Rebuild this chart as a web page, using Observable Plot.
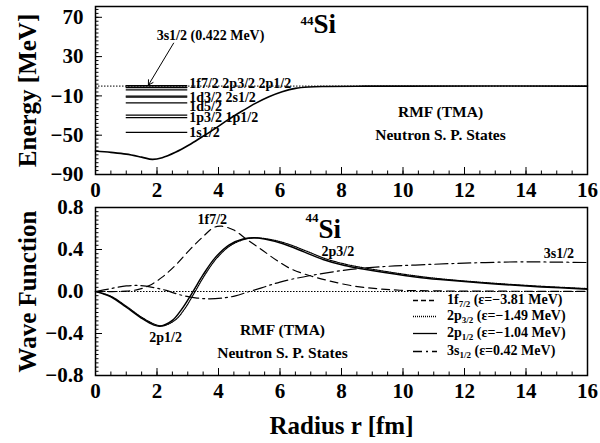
<!DOCTYPE html>
<html><head><meta charset="utf-8">
<script src="https://cdn.jsdelivr.net/npm/d3@7"></script>
<script src="https://cdn.jsdelivr.net/npm/@observablehq/plot@0.6"></script>
<style>
body{margin:0;background:#fff;}
#wrap{position:relative;width:600px;height:443px;font-family:"Liberation Serif","Times New Roman",serif;}
#wrap svg{display:block;}
.lg{position:absolute;height:17px;display:flex;align-items:center;font-weight:bold;font-size:14px;white-space:nowrap;}
.lg sub{font-size:9px;vertical-align:-3px;}
</style></head>
<body><div id="wrap"></div>
<script>
const FONT = '"Liberation Serif","Times New Roman",serif';

// ---------- top panel data ----------
const potR = [0, 0.5, 1.0, 1.5, 1.85, 2.17, 2.6, 3.04, 3.47, 3.9, 4.34, 4.77, 5.2, 5.64, 6.07, 6.5, 6.94, 7.5, 8.5, 10, 16];
const potE = [-66.1, -67.5, -69.3, -72.3, -74.6, -72.9, -67.4, -60, -51.6, -43, -33.6, -25.4, -17.6, -10.9, -5.8, -2.3, -0.9, -0.4, -0.1, 0, 0];
const levelNames = ["3s1/2", "2p1/2", "2p3/2", "1f7/2", "1d3/2", "2s1/2", "1d5/2", "1p1/2", "1p3/2", "1s1/2"];
const levelE = [0.42, -1.04, -1.49, -3.81, -10.2, -11.2, -17.0, -29.5, -32.2, -47.1];
const levelSpan = [1, 3];
const levelLabels = ["1f7/2 2p3/2 2p1/2", "1d3/2 2s1/2", "1d5/2", "1p3/2 1p1/2", "1s1/2"];
const levelLabelE = [2.6, -11.6, -21.3, -31.8, -47.1];
const levelLabelR = 3.05;
const arrowNote = {text: "3s1/2 (0.422 MeV)", r: 3.74, E: 51.9, r1: 2.54, E1: 43.7, r2: 1.72, E2: 1.0};
const energyTicks = [70, 30, -10, -50, -90];
const xTicks = [0, 2, 4, 6, 8, 10, 12, 14, 16];

// ---------- bottom panel data ----------
const f72 = [[0,0],[1.0,0.003],[1.4,0.02],[1.75,0.057],[2.17,0.137],[2.6,0.25],[3.04,0.39],[3.47,0.515],[3.85,0.61],[4.1,0.622],[4.5,0.585],[4.9,0.5],[5.37,0.405],[5.9,0.295],[6.35,0.216],[6.95,0.152],[7.55,0.105],[8.3,0.057],[9.15,0.027],[9.9,0.012],[11,0.006],[13,0.003],[16,0.001]];
const p32 = [[0,0],[0.5,-0.045],[1.0,-0.14],[1.5,-0.245],[1.95,-0.315],[2.2,-0.327],[2.6,-0.27],[2.9,-0.165],[3.22,-0.01],[3.55,0.155],[3.95,0.32],[4.4,0.44],[4.85,0.497],[5.2,0.51],[5.6,0.5],[6.2,0.458],[6.9,0.38],[7.5,0.31],[8.2,0.255],[8.8,0.222],[9.5,0.188],[10.2,0.157],[10.7,0.138],[11.5,0.113],[13,0.078],[14.5,0.05],[16,0.028]];
const p12 = [[0,0],[0.5,-0.05],[1.0,-0.15],[1.5,-0.255],[1.9,-0.32],[2.1,-0.33],[2.5,-0.275],[2.8,-0.17],[3.15,-0.01],[3.5,0.16],[3.9,0.325],[4.35,0.445],[4.8,0.5],[5.15,0.513],[5.5,0.5],[6.1,0.455],[6.8,0.375],[7.4,0.305],[8.1,0.247],[8.7,0.214],[9.4,0.18],[10.1,0.15],[10.6,0.131],[11.5,0.106],[13,0.071],[14.5,0.044],[16,0.022]];
const s12 = [[0,0],[0.45,0.025],[1.0,0.053],[1.4,0.057],[1.85,0.04],[2.3,0.01],[2.7,-0.028],[3.25,-0.06],[3.7,-0.07],[4.1,-0.063],[4.55,-0.042],[4.95,-0.005],[5.4,0.035],[6.0,0.09],[6.95,0.15],[8.3,0.21],[9.4,0.238],[10.4,0.252],[12,0.27],[13.7,0.282],[15,0.28],[16,0.276]];
const curveLabels = ["1f7/2", "2p1/2", "2p3/2", "3s1/2"];
const curveLabelR = [3.8, 2.28, 7.88, 15.07];
const curveLabelV = [0.686, -0.435, 0.381, 0.359];
const wfTicks = [0.8, 0.4, 0.0, -0.4, -0.8];
const legendNames = ["1f", "2p", "2p", "3s"];
const legendSubs = ["7/2", "3/2", "1/2", "1/2"];
const legendEps = ["−3.81", "−1.49", "−1.04", "0.42"];
const legendDash = ["5,3", "1,1", "none", "9,4,2,4"];

// ---------- helpers ----------
const FW = 600 - 95 - 13, FH = 168;
const xMinor = d3.range(0, 16.001, 0.5);
const tickMarks = (yMajor, yMinor) => [
  Plot.tickX(xMinor, {x: d => d, insetTop: FH - 3.5, strokeWidth: 1}),
  Plot.tickX(xTicks, {x: d => d, insetTop: FH - 7, strokeWidth: 1}),
  Plot.tickY(yMinor, {y: d => d, insetRight: FW - 3.5, strokeWidth: 1}),
  Plot.tickY(yMajor, {y: d => d, insetRight: FW - 7, strokeWidth: 1}),
];
const bold = {fontWeight: "bold", fill: "black"};

const potential = potR.map((r, i) => ({r, E: potE[i]}));
const levels = levelNames.map((n, i) => ({n, E: levelE[i]}));

const topPlot = Plot.plot({
  width: 600, height: 200, marginTop: 6, marginBottom: 26, marginLeft: 95, marginRight: 13,
  style: {fontFamily: FONT, background: "white", overflow: "visible", color: "black"},
  x: {domain: [0, 16]}, y: {domain: [-90, 81]},
  marks: [
    Plot.ruleY([0], {strokeDasharray: "1.5,1.5", strokeWidth: 1}),
    Plot.ruleY(levels, {y: "E", x1: levelSpan[0], x2: levelSpan[1], strokeWidth: 1.3}),
    Plot.line(potential, {x: "r", y: "E", curve: "catmull-rom", strokeWidth: 1.6}),
    Plot.text(levelLabels, {x: () => levelLabelR, y: (d, i) => levelLabelE[i], text: d => d, textAnchor: "start", fontSize: 14, ...bold}),
    Plot.arrow([arrowNote], {x1: "r1", y1: "E1", x2: "r2", y2: "E2", strokeWidth: 1, headLength: 8, stroke: "black"}),
    Plot.text([arrowNote], {x: "r", y: "E", text: "text", fontSize: 14, ...bold}),
    Plot.text(["44"], {x: 7.09, y: 66, textAnchor: "end", fontSize: 13, ...bold}),
    Plot.text(["Si"], {x: 7.09, y: 54, textAnchor: "start", lineAnchor: "bottom", fontSize: 27, ...bold}),
    Plot.text(["RMF (TMA)", "Neutron S. P. States"], {x: 11.22, y: [-26.4, -49.8], fontSize: 15.5, ...bold}),
    ...tickMarks(energyTicks, d3.range(-90, 81, 4)),
    Plot.frame({strokeWidth: 1.5}),
    Plot.axisX({ticks: xTicks, tickSize: 0, tickPadding: 8, fontSize: 21, label: null, fontWeight: "bold", tickFormat: d3.format("d")}),
    Plot.axisY({ticks: energyTicks, tickSize: 0, tickPadding: 12, fontSize: 21, label: null, fontWeight: "bold", tickFormat: d3.format("d")}),
    Plot.text(["Energy [MeV]"], {frameAnchor: "left", dx: -68, rotate: -90, textAnchor: "middle", lineAnchor: "middle", fontSize: 25, ...bold}),
  ]
});

const toObj = a => a.map(([r, v]) => ({r, v}));
const botPlot = Plot.plot({
  width: 600, height: 243, marginTop: 7, marginBottom: 68, marginLeft: 95, marginRight: 13,
  style: {fontFamily: FONT, background: "white", overflow: "visible", color: "black"},
  x: {domain: [0, 16]}, y: {domain: [-0.8, 0.8]},
  marks: [
    Plot.ruleY([0], {strokeDasharray: "1.5,1.5", strokeWidth: 1}),
    Plot.line(toObj(f72), {x: "r", y: "v", curve: "catmull-rom", strokeDasharray: "8,5", strokeWidth: 1.2}),
    Plot.line(toObj(s12), {x: "r", y: "v", curve: "catmull-rom", strokeDasharray: "13,4,2,4", strokeWidth: 1.2}),
    Plot.line(toObj(p32), {x: "r", y: "v", curve: "catmull-rom", strokeDasharray: "1,1", strokeWidth: 1.2}),
    Plot.line(toObj(p12), {x: "r", y: "v", curve: "catmull-rom", strokeWidth: 1.5}),
    Plot.text(curveLabels, {x: (d, i) => curveLabelR[i], y: (d, i) => curveLabelV[i], text: d => d, fontSize: 14, ...bold}),
    Plot.text(["44"], {x: 7.25, y: 0.70, textAnchor: "end", fontSize: 13, ...bold}),
    Plot.text(["Si"], {x: 7.25, y: 0.514, textAnchor: "start", lineAnchor: "bottom", fontSize: 27, ...bold}),
    Plot.text(["RMF (TMA)", "Neutron S. P. States"], {x: 6.08, y: [-0.37, -0.59], fontSize: 15.5, ...bold}),
    ...tickMarks(wfTicks, d3.range(-0.8, 0.801, 0.04)),
    Plot.frame({strokeWidth: 1.5}),
    Plot.axisX({ticks: xTicks, tickSize: 0, tickPadding: 8, fontSize: 21, label: null, fontWeight: "bold", tickFormat: d3.format("d")}),
    Plot.axisY({ticks: wfTicks, tickSize: 0, tickPadding: 12, fontSize: 21, label: null, fontWeight: "bold", tickFormat: d3.format(".1f")}),
    Plot.text(["Wave Function"], {frameAnchor: "left", dx: -68, rotate: -90, textAnchor: "middle", lineAnchor: "middle", fontSize: 25, ...bold}),
    Plot.text(["Radius r [fm]"], {frameAnchor: "bottom", dy: 50, textAnchor: "middle", lineAnchor: "middle", fontSize: 25, ...bold}),
  ]
});

const wrap = document.getElementById("wrap");
wrap.append(topPlot, botPlot);

// legend (inside lower frame)
const rowY = [300, 316.7, 333.3, 351];
legendNames.forEach((n, i) => {
  const row = document.createElement("div");
  row.className = "lg";
  row.style.left = "412px";
  row.style.top = (rowY[i] - 8.5) + "px";
  const dash = legendDash[i] === "none" ? "" : `stroke-dasharray="${legendDash[i]}"`;
  row.innerHTML = `<svg width="26" height="17" style="display:block"><line x1="1" x2="25" y1="8.5" y2="8.5" stroke="black" stroke-width="1.3" ${dash}/></svg>` +
    `<span style="margin-left:9px">${n}<sub>${legendSubs[i]}</sub> (ε=${legendEps[i]} MeV)</span>`;
  wrap.append(row);
});
</script>
</body></html>
